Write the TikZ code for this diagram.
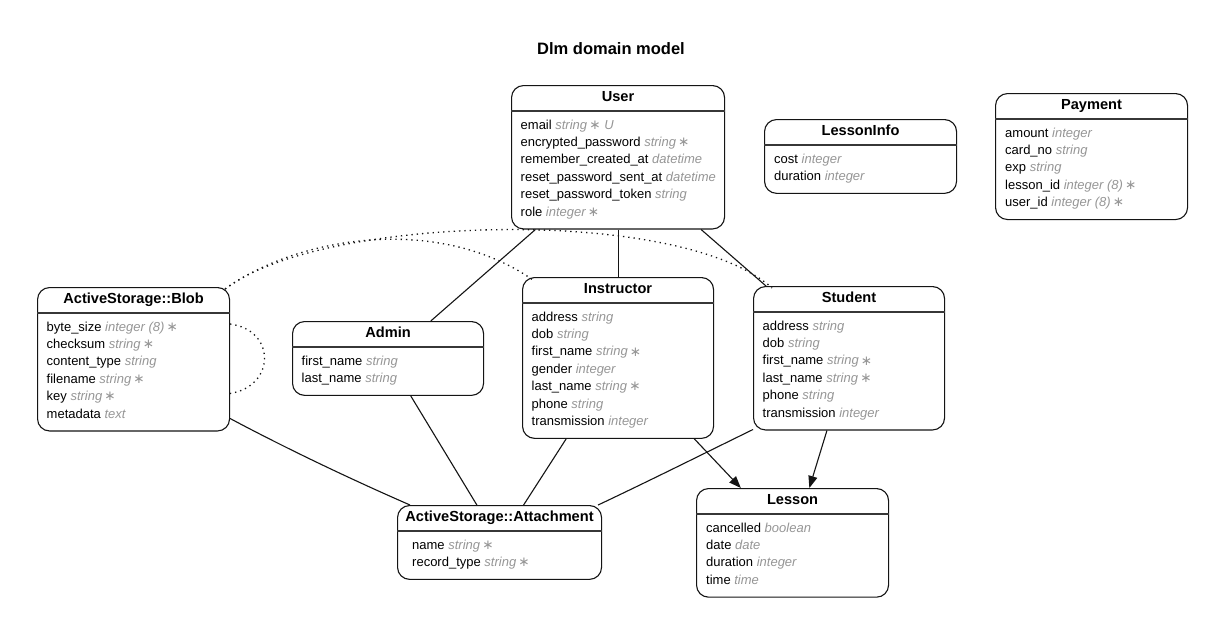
\documentclass[tikz,border=0pt]{standalone}
\usepackage{fontspec}
\setmainfont{Liberation Sans}
\newfontfamily\djv{DejaVu Sans}
\usetikzlibrary{arrows.meta,calc}
\definecolor{typegray}{RGB}{150,150,150}
\definecolor{edgeblack}{RGB}{20,20,20}
\newcommand{\ty}[1]{\textcolor{typegray}{\itshape #1}}
\newcommand{\req}{{\djv\fontsize{13.5}{15}\selectfont\raisebox{-0.3pt}{∗}}}
\tikzset{
  x=1pt, y=-1pt,
  ebox/.style={draw=edgeblack, rounded corners=12pt, line width=1.1pt, inner sep=0pt, fill=white},
  divider/.style={draw=edgeblack!85, line width=1.4pt},
  hdr/.style={font=\bfseries\fontsize{14.6}{17}\selectfont, inner sep=0pt, anchor=base},
  rowtext/.style={font=\fontsize{13}{15}\selectfont, inner sep=0pt, anchor=base west},
  rel/.style={draw=edgeblack, line width=1.1pt},
  arr/.style={-{Triangle[length=12pt,width=9pt]}},
  dots/.style={draw=edgeblack, line width=1.3pt, dash pattern=on 1.3pt off 4pt},
  titletext/.style={font=\bfseries\fontsize{16.5}{19}\selectfont, inner sep=0pt, anchor=base}
}
% #1 name, #2 x, #3 y, #4 width, #5 nrows, #6 title, #7 row inset, #8 rows
\newcommand{\mkentity}[8]{%
  \pgfmathsetmacro\entH{39+17.4*#5}%
  \node[ebox, minimum width=#4pt, minimum height=\entH pt, anchor=north west] (#1) at (#2,#3) {};
  \node[hdr] (#1-t) at ($(#1.north)+(0,16.5)$) {#6};
  \draw[divider] ($(#1.north west)+(0,26)$) -- ($(#1.north east)+(0,26)$);
  \foreach \r [count=\i] in {#8} {
    \node[rowtext] (#1-\i) at ($(#1.north west)+(#7,44+17.4*\i-17.4)$) {\r};
  }
}
\begin{document}
\begin{tikzpicture}
\useasboundingbox[fill=white] (0,0) rectangle (1215,624);
\node[titletext] (title) at (611,54) {Dlm domain model};

\mkentity{user}{511}{85}{213}{6}{User}{9.5}{%
  {email \ty{string\,\req{} U}},
  {encrypted\_password \ty{string\,\req}},
  {remember\_created\_at \ty{datetime}},
  {reset\_password\_sent\_at \ty{datetime}},
  {reset\_password\_token \ty{string}},
  {role \ty{integer\,\req}}}
\mkentity{lessoninfo}{764}{119}{192}{2}{LessonInfo}{10}{%
  {cost \ty{integer}},
  {duration \ty{integer}}}
\mkentity{payment}{995}{93}{192}{5}{Payment}{10}{%
  {amount \ty{integer}},
  {card\_no \ty{string}},
  {exp \ty{string}},
  {lesson\_id \ty{integer (8)\,\req}},
  {user\_id \ty{integer (8)\,\req}}}
\mkentity{blob}{37}{287}{192}{6}{ActiveStorage::Blob}{9.5}{%
  {byte\_size \ty{integer (8)\,\req}},
  {checksum \ty{string\,\req}},
  {content\_type \ty{string}},
  {filename \ty{string\,\req}},
  {key \ty{string\,\req}},
  {metadata \ty{text}}}
\mkentity{admin}{292}{321}{191}{2}{Admin}{9.5}{%
  {first\_name \ty{string}},
  {last\_name \ty{string}}}
\mkentity{instructor}{522}{277}{191}{7}{Instructor}{9.5}{%
  {address \ty{string}},
  {dob \ty{string}},
  {first\_name \ty{string\,\req}},
  {gender \ty{integer}},
  {last\_name \ty{string\,\req}},
  {phone \ty{string}},
  {transmission \ty{integer}}}
\mkentity{student}{753}{286}{191}{6}{Student}{9.5}{%
  {address \ty{string}},
  {dob \ty{string}},
  {first\_name \ty{string\,\req}},
  {last\_name \ty{string\,\req}},
  {phone \ty{string}},
  {transmission \ty{integer}}}
\mkentity{attach}{397}{505}{204}{2}{ActiveStorage::Attachment}{15}{%
  {name \ty{string\,\req}},
  {record\_type \ty{string\,\req}}}
\mkentity{lesson}{696}{488}{192}{4}{Lesson}{10}{%
  {cancelled \ty{boolean}},
  {date \ty{date}},
  {duration \ty{integer}},
  {time \ty{time}}}

% connectors
\draw[rel] (user) -- (admin);
\draw[rel] (user) -- (instructor);
\draw[rel] (user) -- (student);
\draw[rel] (admin) -- (attach);
\draw[rel] (instructor) -- (attach);
\draw[rel, arr] (instructor) -- (lesson);
\draw[rel, arr] (student) -- (lesson);
\draw[rel] ([yshift=13pt]blob.south east) .. controls +(60,32) and +(-55,-24) .. ([xshift=13pt]attach.north west);
\draw[rel] ([yshift=1pt]student.south west) .. controls +(-45,22) and +(55,-26) .. ([xshift=-4pt]attach.north east);
% dotted
\draw[dots] ([xshift=-5pt,yshift=-2pt]blob.north east) .. controls (300,235) and (440,215) .. ([xshift=11pt,yshift=-3pt]instructor.north west);
\draw[dots] ([xshift=-5pt,yshift=-2pt]blob.north east) .. controls (320,215) and (680,205) .. ([xshift=19pt,yshift=-2pt]student.north west);
\draw[dots] ([yshift=-37pt]blob.north east) .. controls (276,330) and (276,386) .. ([yshift=38pt]blob.south east);
\end{tikzpicture}
\end{document}
